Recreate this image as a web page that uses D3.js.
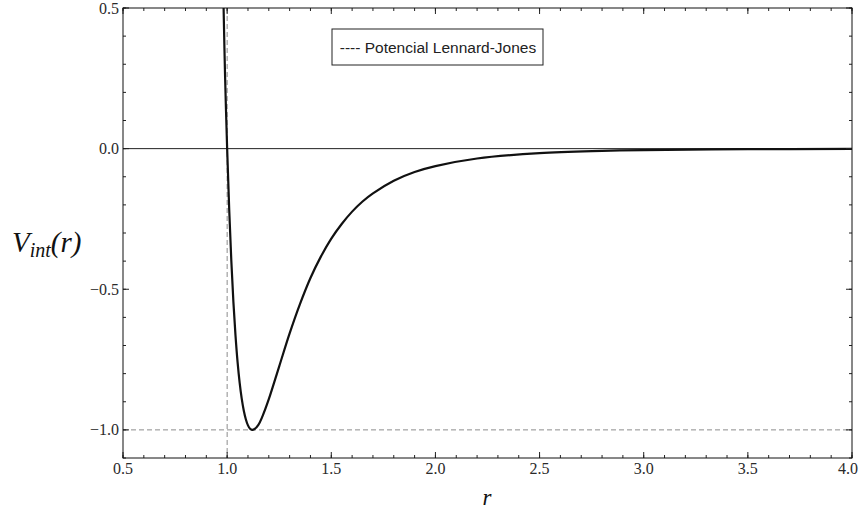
<!DOCTYPE html>
<html>
<head>
<meta charset="utf-8">
<script src="https://cdn.jsdelivr.net/npm/d3@7"></script>
<style>
  body { margin: 0; background: #fff; }
  svg { display: block; }
</style>
</head>
<body>
<svg id="chart_svg" width="859" height="512"></svg>
<script>
// values
var rValues = [0.983, 0.99, 1.0, 1.01, 1.02, 1.03, 1.04, 1.05, 1.06, 1.07, 1.08, 1.09, 1.1, 1.11, 1.12, 1.13,
               1.15, 1.17, 1.2, 1.25, 1.3, 1.35, 1.4, 1.45, 1.5, 1.55, 1.6, 1.65, 1.7, 1.8, 1.9,
               2.0, 2.2, 2.5, 2.8, 3.0, 3.5, 4.0];
var vValues = [0.5, 0.26, 0.0, -0.218, -0.398, -0.545, -0.663, -0.758, -0.832, -0.889, -0.932, -0.963, -0.984, -0.996, -1.0, -0.998,
               -0.982, -0.951, -0.891, -0.774, -0.657, -0.552, -0.46, -0.384, -0.32, -0.268, -0.224, -0.188, -0.159, -0.114, -0.083,
               -0.062, -0.035, -0.016, -0.008, -0.005, -0.002, -0.001];
var xTicks = [0.5, 1.0, 1.5, 2.0, 2.5, 3.0, 3.5, 4.0];
var yTicks = [-1.0, -0.5, 0.0, 0.5];
var sigmaLine = [1.0];
var minLine = [-1.0];
var legendText = "---- Potencial Lennard-Jones";

var margin = {left: 123, right: 7, top: 8, bottom: 54};
var width = 859 - margin.left - margin.right;
var height = 512 - margin.top - margin.bottom;

var base = d3.select('#chart_svg');
var plot = base.append("g")
                .attr("transform", "translate(" + margin.left + "," + margin.top + ")");

var x = d3.scaleLinear().domain([0.5, 4.0]).range([0, width]);
var y = d3.scaleLinear().domain([-1.1, 0.5]).range([height, 0]);

plot.append("clipPath").attr("id", "clip")
    .append("rect").attr("width", width).attr("height", height);

// Dashed reference lines
plot.selectAll(".vref").data(sigmaLine).enter().append("line")
    .attr("x1", d => x(d)).attr("x2", d => x(d))
    .attr("y1", 0).attr("y2", height)
    .attr("stroke", "#8c8c8c").attr("stroke-width", 1)
    .attr("stroke-dasharray", "5,3");
plot.selectAll(".href").data(minLine).enter().append("line")
    .attr("x1", 0).attr("x2", width)
    .attr("y1", d => y(d)).attr("y2", d => y(d))
    .attr("stroke", "#8c8c8c").attr("stroke-width", 1)
    .attr("stroke-dasharray", "5,3");

// zero line
plot.append("line")
    .attr("x1", 0).attr("x2", width)
    .attr("y1", y(0)).attr("y2", y(0))
    .attr("stroke", "#222").attr("stroke-width", 1);

// Curve
var pts = rValues.map((r, i) => [r, vValues[i]]);
plot.append("path")
    .datum(pts)
    .attr("clip-path", "url(#clip)")
    .attr("fill", "none")
    .attr("stroke", "#111")
    .attr("stroke-width", 2.2)
    .attr("d", d3.line().x(d => x(d[0])).y(d => y(d[1])).curve(d3.curveCatmullRom));

// Axes (frame with inward ticks on all four sides)
var fmt = d => d3.format(".1f")(d).replace("-", "\u2212");
var xMinor = d3.range(5, 41).map(d => d / 10);
var yMinor = d3.range(-11, 6).map(d => d / 10);

function xAxisAt(yPos, dir, labels) {
    var g = plot.append("g");
    g.selectAll(".mn").data(xMinor).enter().append("line")
        .attr("x1", d => x(d)).attr("x2", d => x(d))
        .attr("y1", yPos).attr("y2", yPos + dir * 3)
        .attr("stroke", "#222");
    g.selectAll(".mj").data(xTicks).enter().append("line")
        .attr("x1", d => x(d)).attr("x2", d => x(d))
        .attr("y1", yPos).attr("y2", yPos + dir * 6)
        .attr("stroke", "#222");
    if (labels) {
        g.selectAll("text").data(xTicks).enter().append("text")
            .attr("x", d => x(d) - (d === 4.0 ? 4 : 0)).attr("y", yPos + 16)
            .attr("text-anchor", "middle")
            .attr("font-family", "Liberation Serif, Times New Roman, serif")
            .attr("font-size", "16px")
            .attr("fill", "#2a2a2a")
            .text(fmt);
    }
}
function yAxisAt(xPos, dir, labels) {
    var g = plot.append("g");
    g.selectAll(".mn").data(yMinor).enter().append("line")
        .attr("x1", xPos).attr("x2", xPos + dir * 3)
        .attr("y1", d => y(d)).attr("y2", d => y(d))
        .attr("stroke", "#222");
    g.selectAll(".mj").data(yTicks).enter().append("line")
        .attr("x1", xPos).attr("x2", xPos + dir * 6)
        .attr("y1", d => y(d)).attr("y2", d => y(d))
        .attr("stroke", "#222");
    if (labels) {
        g.selectAll("text").data(yTicks).enter().append("text")
            .attr("x", xPos - 4).attr("y", d => y(d))
            .attr("text-anchor", "end")
            .attr("dominant-baseline", "central")
            .attr("font-family", "Liberation Serif, Times New Roman, serif")
            .attr("font-size", "16px")
            .attr("fill", "#2a2a2a")
            .text(fmt);
    }
}
xAxisAt(height, -1, true);
xAxisAt(0, 1, false);
yAxisAt(0, 1, true);
yAxisAt(width, -1, false);

plot.append("rect")
    .attr("width", width).attr("height", height)
    .attr("fill", "none").attr("stroke", "#111").attr("stroke-width", 1);

// Legend
var legend = base.append("g").attr("transform", "translate(332,29)");
legend.append("rect")
    .attr("width", 211).attr("height", 36)
    .attr("fill", "#fff").attr("stroke", "#222").attr("stroke-width", 1);
legend.append("text")
    .attr("x", 106).attr("y", 18)
    .attr("text-anchor", "middle")
    .attr("dominant-baseline", "central")
    .attr("font-family", "Liberation Sans, Arial, sans-serif")
    .attr("font-size", "15.5px")
    .attr("fill", "#222")
    .text(legendText);

// Axis titles
var yt = base.append("text")
    .attr("x", 12).attr("y", 252)
    .attr("font-family", "Liberation Serif, Times New Roman, serif")
    .attr("font-style", "italic")
    .attr("fill", "#111");
yt.append("tspan").attr("font-size", "29px").text("V");
yt.append("tspan").attr("font-size", "20px").attr("dy", 5).text("int");
yt.append("tspan").attr("font-size", "29px").attr("dy", -5).text("(r)");

base.append("text")
    .attr("x", 487).attr("y", 505)
    .attr("text-anchor", "middle")
    .attr("font-family", "Liberation Serif, Times New Roman, serif")
    .attr("font-style", "italic")
    .attr("font-size", "23px")
    .attr("fill", "#111")
    .text("r");
</script>
</body>
</html>
